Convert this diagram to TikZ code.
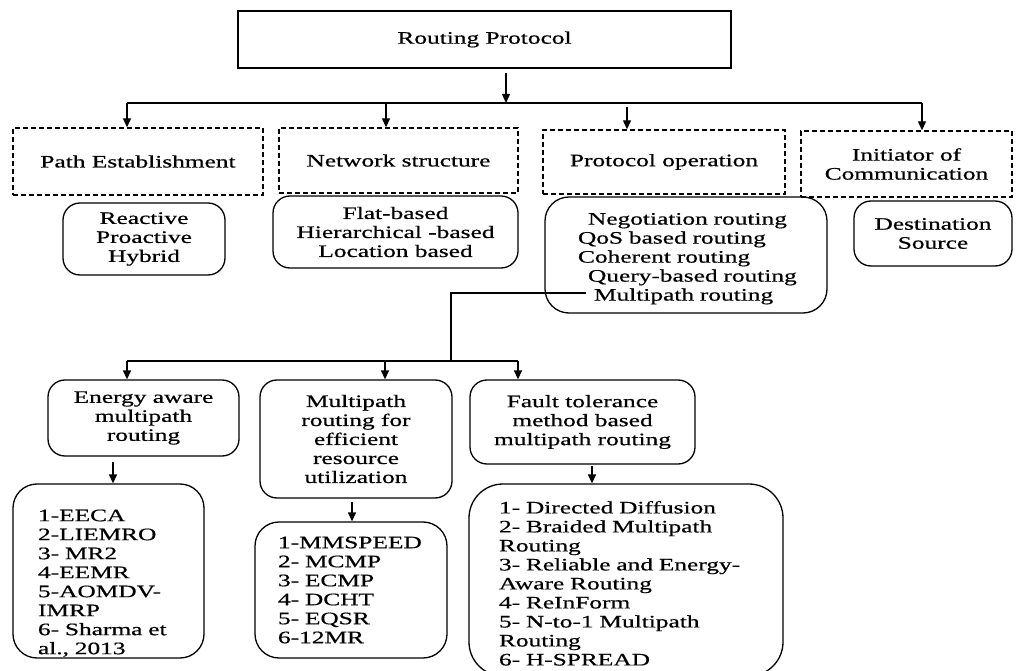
\documentclass[tikz,border=0pt]{standalone}
\usepackage{fontspec}
\setmainfont{Liberation Serif}[FakeStretch=1.45,FakeBold=0.6]
\usetikzlibrary{arrows.meta,calc}

\begin{document}
\begin{tikzpicture}[x=1pt,y=-1pt,
  font=\fontsize{17.5}{19}\selectfont,
  arr/.style={-{Triangle[length=9pt,width=8pt]}, line width=1.3pt},
  link/.style={line width=1.3pt},
  sbox/.style={draw, line width=1.4pt, align=center, inner sep=0pt},
  dbox/.style={draw, line width=1.4pt, dash pattern=on 5pt off 3pt, align=center, inner sep=0pt},
  rbox/.style={draw, line width=1.3pt, rounded corners=17pt, align=center, inner sep=0pt},
  lbox/.style={draw, line width=1.3pt, rounded corners=24pt, align=left, inner xsep=8pt, inner ysep=0pt},
]
\useasboundingbox (0,0) rectangle (1018,671);

% top of the tree
\node[sbox, minimum width=493pt, minimum height=57pt] (root) at (484.5,39.5) {Routing Protocol};

% classification criteria
\node[dbox, minimum width=250pt, minimum height=67pt] (pe) at (138,161.5) {Path Establishment};
\node[dbox, minimum width=239pt, minimum height=65pt] (ns) at (398.5,160.5) {Network structure};
\node[dbox, minimum width=242pt, minimum height=64pt] (po) at (664,162) {Protocol operation};
\node[dbox, minimum width=211pt, minimum height=66pt] (ic) at (906.5,164) {Initiator of\\Communication};

% protocol families per criterion
\node[rbox, minimum width=162pt, minimum height=72pt] (rpa) at (144,239) {Reactive\\Proactive\\Hybrid};
\node[rbox, minimum width=245pt, minimum height=72pt] (fhl) at (395.5,232) {Flat-based\\Hierarchical -based\\Location based};
\node[lbox, minimum width=282pt, minimum height=116pt, text width=266pt] (neg) at (686,255)
  {\leftskip=25pt
   \rule{0pt}{19pt}\hspace*{10pt}Negotiation routing\\
   QoS based routing\\
   Coherent routing\\
   \hspace*{10pt}Query-based routing\\
   \hspace*{16pt}Multipath routing\par};
\node[rbox, minimum width=158pt, minimum height=65pt] (ds) at (933,233.5) {Destination\\Source};

% multipath routing categories
\node[rbox, minimum width=191pt, minimum height=76pt] (ea) at (143.5,418) {Energy aware\\multipath\\routing};
\node[rbox, minimum width=192pt, minimum height=118pt] (mre) at (356,439) {Multipath\\routing for\\efficient\\resource\\utilization};
\node[rbox, minimum width=225pt, minimum height=84pt] (ft) at (582.5,422) {Fault tolerance\\method based\\multipath routing};

% protocol lists
\node[lbox, minimum width=191pt, minimum height=174pt, text width=175pt] (eal) at (108.5,571)
  {\leftskip=17pt
   \rule{0pt}{36pt}1-EECA\\2-LIEMRO\\3- MR2\\4-EEMR\\5-AOMDV-\\IMRP\\6- Sharma et\\al., 2013\par};
\node[lbox, minimum width=192pt, minimum height=136pt, text width=176pt] (mrl) at (351,590)
  {\leftskip=15pt
   1-MMSPEED\\2- MCMP\\3- ECMP\\4- DCHT\\5- EQSR\\6-12MR\par};
\node[lbox, rounded corners=34pt, minimum width=314pt, minimum height=192pt, text width=298pt] (ftl) at (626,580)
  {\leftskip=22pt
   \rule{0pt}{19pt}1- Directed Diffusion\\2- Braided Multipath\\Routing\\3- Reliable and Energy-\\Aware Routing\\4- ReInForm\\5- N-to-1 Multipath\\Routing\\6- H-SPREAD\par};

% first level connectors
\coordinate (hub) at (506,103);
\coordinate (barL) at (127,103);
\coordinate (barR) at (922,103);
\coordinate (b2) at (386,103);
\coordinate (b3) at (627,107);
\draw[arr] ($(root.south -| hub)+(0,4)$) -- (hub);
\draw[link] (barL) -- (barR);
\draw[arr] (barL) -- (barL |- pe.north);
\draw[arr] (b2) -- (b2 |- ns.north);
\draw[arr] (b3) -- (b3 |- po.north);
\draw[arr] (barR) -- (barR |- ic.north);

% multipath routing branch
\coordinate (mp) at (586,293);
\coordinate (hub2) at (451,361);
\coordinate (c1) at (127,361);
\coordinate (c2) at (385,361);
\coordinate (c3) at (518,361);
\draw[link] (mp) -| (hub2);
\draw[link] (c1) -- (c3);
\draw[arr] (c1) -- (c1 |- ea.north);
\draw[arr] (c2) -- (c2 |- mre.north);
\draw[arr] (c3) -- (c3 |- ft.north);

% category to list connectors
\coordinate (d1) at (113,462);
\coordinate (d2) at (352,502);
\coordinate (d3) at (592,466);
\draw[arr] (d1) -- (d1 |- eal.north);
\draw[arr] (d2) -- (d2 |- mrl.north);
\draw[arr] (d3) -- (d3 |- ftl.north);
\end{tikzpicture}
\end{document}
